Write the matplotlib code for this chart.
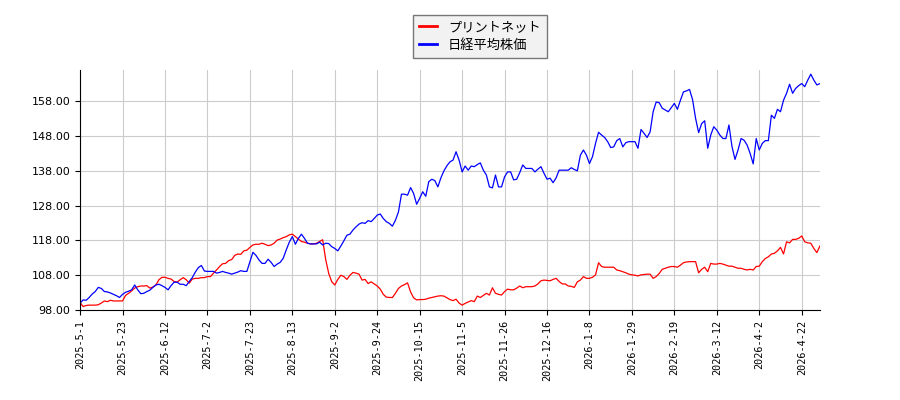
import matplotlib
matplotlib.use("Agg")
import matplotlib.pyplot as plt
import numpy as np

plt.rcParams['font.family'] = ['Noto Sans CJK JP', 'DejaVu Sans']

# tick labels, one every 14 trading days
tick_labels = ['2025-5-1', '2025-5-23', '2025-6-12', '2025-7-2', '2025-7-23', '2025-8-13',
               '2025-9-2', '2025-9-24', '2025-10-15', '2025-11-5', '2025-11-26', '2025-12-16',
               '2026-1-8', '2026-1-29', '2026-2-19', '2026-3-12', '2026-4-2', '2026-4-22']
tick_step = 14

printnet = [
    100.1, 99.0, 99.3, 99.4, 99.4, 99.4, 99.5, 100.0, 100.6, 100.4,
    100.8, 100.6, 100.6, 100.6, 100.6, 102.2, 102.8, 103.5, 104.3, 104.7,
    104.9, 104.9, 105.0, 104.3, 104.6, 105.2, 106.7, 107.4, 107.4, 107.1,
    106.9, 106.2, 106.0, 106.7, 107.3, 106.7, 105.7, 106.9, 107.1, 107.1,
    107.3, 107.3, 107.6, 107.6, 108.6, 109.5, 110.5, 111.3, 111.4, 112.2,
    112.5, 113.7, 114.1, 114.0, 115.0, 115.2, 116.0, 116.7, 116.9, 116.9,
    117.2, 116.9, 116.5, 116.7, 117.2, 118.1, 118.4, 118.8, 119.1, 119.6,
    119.8, 119.1, 118.4, 117.7, 117.5, 117.2, 117.0, 117.0, 117.2, 117.7,
    118.2, 112.5, 108.5, 106.1, 105.2, 106.8, 108.0, 107.6, 106.8, 108.0,
    108.8, 108.6, 108.3, 106.6, 106.8, 105.6, 106.1, 105.5, 104.9, 104.0,
    102.5, 101.7, 101.6, 101.6, 102.8, 104.2, 104.9, 105.3, 105.8, 103.2,
    101.5, 100.9, 101.0, 101.0, 101.1, 101.4, 101.6, 101.8, 102.0, 102.1,
    102.0, 101.5, 101.0, 100.7, 101.1, 100.0, 99.4, 99.9, 100.3, 100.7,
    100.4, 102.0, 101.6, 102.2, 102.8, 102.3, 104.4, 102.8, 102.5, 102.3,
    103.3, 104.0, 103.8, 103.8, 104.3, 104.9, 104.4, 104.7, 104.7, 104.7,
    104.9, 105.5, 106.4, 106.6, 106.5, 106.4, 106.8, 107.1, 106.2, 105.5,
    105.5, 104.9, 104.8, 104.5, 106.1, 106.6, 107.6, 107.1, 107.1, 107.4,
    108.1, 111.6, 110.5, 110.3, 110.3, 110.3, 110.3, 109.5, 109.3, 109.0,
    108.7, 108.3, 108.1, 108.0, 107.8, 108.1, 108.2, 108.3, 108.3, 107.1,
    107.6, 108.5, 109.7, 110.0, 110.3, 110.5, 110.5, 110.3, 110.9, 111.6,
    111.8, 111.9, 111.9, 111.9, 108.7, 109.7, 110.3, 109.0, 111.4, 111.2,
    111.2, 111.4, 111.2, 110.9, 110.6, 110.6, 110.3, 110.0, 110.0, 109.7,
    109.5, 109.7, 109.5, 110.5, 110.6, 111.9, 112.8, 113.3, 114.1, 114.3,
    115.0, 116.0, 114.1, 117.6, 117.3, 118.3, 118.3, 118.6, 119.3, 117.6,
    117.3, 117.2, 115.7, 114.5, 116.4,
]

nikkei = [
    100.0, 100.9, 100.8, 101.6, 102.6, 103.3, 104.5, 104.2, 103.3, 103.2,
    102.9, 102.5, 102.1, 101.6, 102.5, 103.1, 103.4, 103.8, 105.2, 103.8,
    102.7, 102.8, 103.3, 103.7, 104.5, 105.2, 105.4, 105.0, 104.5, 103.8,
    105.0, 106.0, 106.0, 105.4, 105.4, 105.0, 106.2, 107.3, 108.9, 110.2,
    110.8, 109.2, 109.1, 109.1, 109.1, 108.6, 108.8, 109.1, 108.8, 108.6,
    108.3, 108.6, 108.9, 109.3, 109.1, 109.1, 111.9, 114.6, 113.7, 112.4,
    111.4, 111.4, 112.6, 111.7, 110.5, 111.2, 111.7, 112.9, 115.3, 117.5,
    119.1, 116.9, 118.6, 119.8, 118.6, 117.2, 117.0, 117.0, 117.0, 117.5,
    116.7, 117.2, 117.1, 116.2, 115.7, 115.0, 116.4, 117.9, 119.5, 119.8,
    121.0, 121.9, 122.7, 123.1, 122.9, 123.7, 123.4, 124.3, 125.3, 125.6,
    124.3, 123.4, 122.9, 122.1, 123.8, 126.2, 131.3, 131.3, 131.0, 133.2,
    131.5, 128.4, 130.1, 132.0, 130.7, 134.9, 135.6, 135.2, 133.4, 136.0,
    138.0, 139.5, 140.6, 141.1, 143.5, 141.1, 137.7, 139.4, 138.2, 139.4,
    139.2, 139.8, 140.3, 138.2, 136.8, 133.4, 133.1, 136.8, 133.4, 133.4,
    136.3, 137.7, 137.7, 135.4, 135.6, 137.5, 139.7, 138.7, 138.7, 138.7,
    137.7, 138.5, 139.2, 137.3, 135.6, 135.9, 134.6, 136.0, 138.2, 138.2,
    138.2, 138.2, 138.9, 138.4, 138.0, 142.5, 144.0, 142.5, 140.1, 142.1,
    145.9, 149.1, 148.3, 147.6, 146.4, 144.7, 144.9, 146.7, 147.3, 144.9,
    146.1, 146.4, 146.4, 146.4, 144.5, 149.9, 148.8, 147.6, 149.2, 155.0,
    157.8, 157.6, 156.0, 155.5, 155.0, 156.2, 157.4, 155.7, 158.3, 160.7,
    161.0, 161.4, 158.5, 153.1, 149.0, 151.6, 152.4, 144.5, 148.3, 150.7,
    149.7, 148.3, 147.3, 147.3, 151.2, 145.0, 141.3, 144.0, 147.3, 146.8,
    145.4, 143.0, 140.0, 147.3, 144.0, 145.9, 146.7, 146.7, 154.0, 153.1,
    155.7, 155.0, 158.3, 160.3, 162.9, 160.3, 161.7, 162.5, 163.1, 162.2,
    164.1, 165.8, 164.1, 162.7, 163.1,
]

x = np.arange(len(nikkei))

fig = plt.figure(figsize=(9, 4), dpi=100)
ax = fig.add_axes([0.089, 0.225, 0.822, 0.6])

ax.plot(x, printnet, color='red', linewidth=0.9, label='プリントネット')
ax.plot(x, nikkei, color='blue', linewidth=0.9, label='日経平均株価')

ax.set_xlim(0, len(x) - 1)
ax.set_ylim(98, 167)
yt = np.arange(98, 160, 10)
ax.set_yticks(yt)
ax.set_yticklabels(['%.2f' % v for v in yt], fontsize=8, family='DejaVu Sans')
ax.set_xticks(np.arange(len(tick_labels)) * tick_step)
ax.set_xticklabels(tick_labels, rotation=90, fontsize=7.3, family='DejaVu Sans Mono')
ax.grid(True, color='#cccccc', linewidth=0.8)
ax.set_axisbelow(True)
for s in ['top', 'right']:
    ax.spines[s].set_visible(False)

leg = fig.legend(loc='upper center', bbox_to_anchor=(0.533, 0.963), fontsize=9.5,
                 fancybox=False, edgecolor='#777777', framealpha=1, borderaxespad=0,
                 borderpad=0.45, handlelength=1.4, handletextpad=0.8, labelspacing=0.4)
leg.get_frame().set_facecolor('#f2f2f2')
for line in leg.get_lines():
    line.set_linewidth(2)

fig.savefig('out.png', dpi=100)
